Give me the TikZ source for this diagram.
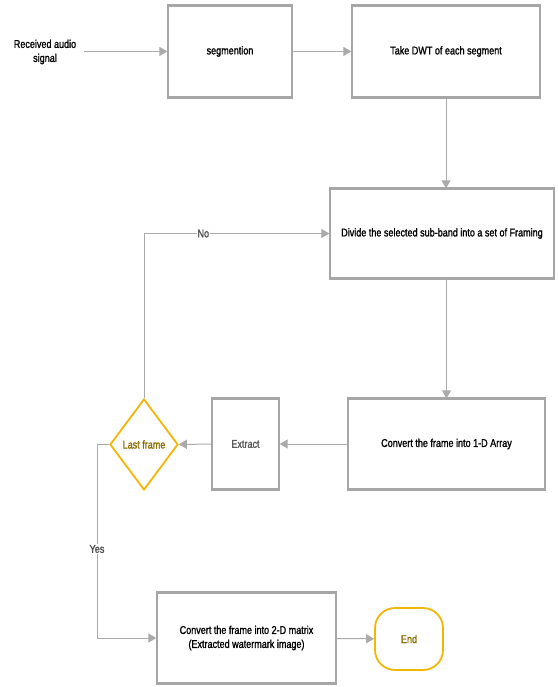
\documentclass[tikz,border=0pt]{standalone}
\usepackage{fontspec}
\setmainfont{Liberation Sans}[FakeStretch=0.8,FakeBold=1.3]
\usepackage{tikz}
\usetikzlibrary{arrows.meta,shapes.geometric}
\definecolor{boxgray}{HTML}{A6A6A6}
\definecolor{linegray}{HTML}{AAAAAA}
\definecolor{gold}{HTML}{F2B705}
\definecolor{darkgold}{HTML}{8A6D00}
\newcommand{\labelfont}{\fontsize{11.3}{14}\selectfont}
\tikzset{
    procbox/.style={draw=boxgray, line width=1.3pt, fill=white, align=center,
        inner sep=0pt, font=\labelfont},
    flow/.style={draw=linegray, line width=1pt, -{Triangle[length=8pt,width=9pt]}},
    plain/.style={draw=linegray, line width=1pt},
    edgetext/.style={fill=white, inner sep=1pt, text=black!70, font=\labelfont},
}

\begin{document}
\begin{tikzpicture}[x=1pt,y=-1pt]
    \useasboundingbox (0,0) rectangle (557,687);
    % boxes
    \node (input) at (45,52) [align=center, font=\labelfont] {Received audio\\signal};
    \node[procbox, minimum width=124pt, minimum height=91pt] (seg) at (230,51.5) {segmention};
    \node[procbox, minimum width=188pt, minimum height=91pt] (dwt) at (446,51.5) {Take DWT of each segment};
    \node[procbox, minimum width=224pt, minimum height=89pt] (divide) at (442,233.5) {Divide the selected sub-band into a set of Framing};
    \node[procbox, minimum width=197pt, minimum height=90pt] (oned) at (446.5,444) {Convert the frame into 1-D Array};
    \node[procbox, minimum width=67pt, minimum height=90pt, text=black!65] (extract) at (245.5,444) {Extract};
    \node[diamond, draw=gold, line width=1.8pt, inner sep=0pt, minimum width=68pt, minimum height=91pt,
        text=darkgold, font=\labelfont] (last) at (144,444.5) {Last frame};
    \node[procbox, minimum width=179pt, minimum height=90pt] (twod) at (246.5,638) {Convert the frame into 2-D matrix\\(Extracted watermark image)};
    \node[draw=gold, line width=1.8pt, rounded corners=20pt, minimum width=68pt, minimum height=62pt,
        inner sep=0pt, text=darkgold, font=\labelfont] (end) at (409,639) {End};
    % heavier top and bottom edges
    \foreach \n in {seg,dwt,divide,oned,extract,twod}
        \draw[boxgray, line width=3pt] (\n.north west) -- (\n.north east) (\n.south west) -- (\n.south east);
    % connectors
    \coordinate (inend) at (84,51.5);
    \draw[flow] (inend) -- (seg);
    \draw[flow] (seg) -- (dwt);
    \draw[flow] (dwt) -- (dwt.south |- divide.north);
    \draw[flow] (oned.north |- divide.south) -- (oned);
    \draw[flow] (oned) -- (extract);
    \draw[flow] (extract) -- (last);
    \draw[flow] (last.north) |- node[pos=0.66, edgetext] {No} (divide);
    \coordinate (bend) at (97,444.5);
    \draw[plain] (last.west) -- (bend);
    \draw[flow] (bend) |- node[pos=0.27, edgetext] {Yes} (twod);
    \draw[flow] (twod) -- (end);
\end{tikzpicture}
\end{document}
